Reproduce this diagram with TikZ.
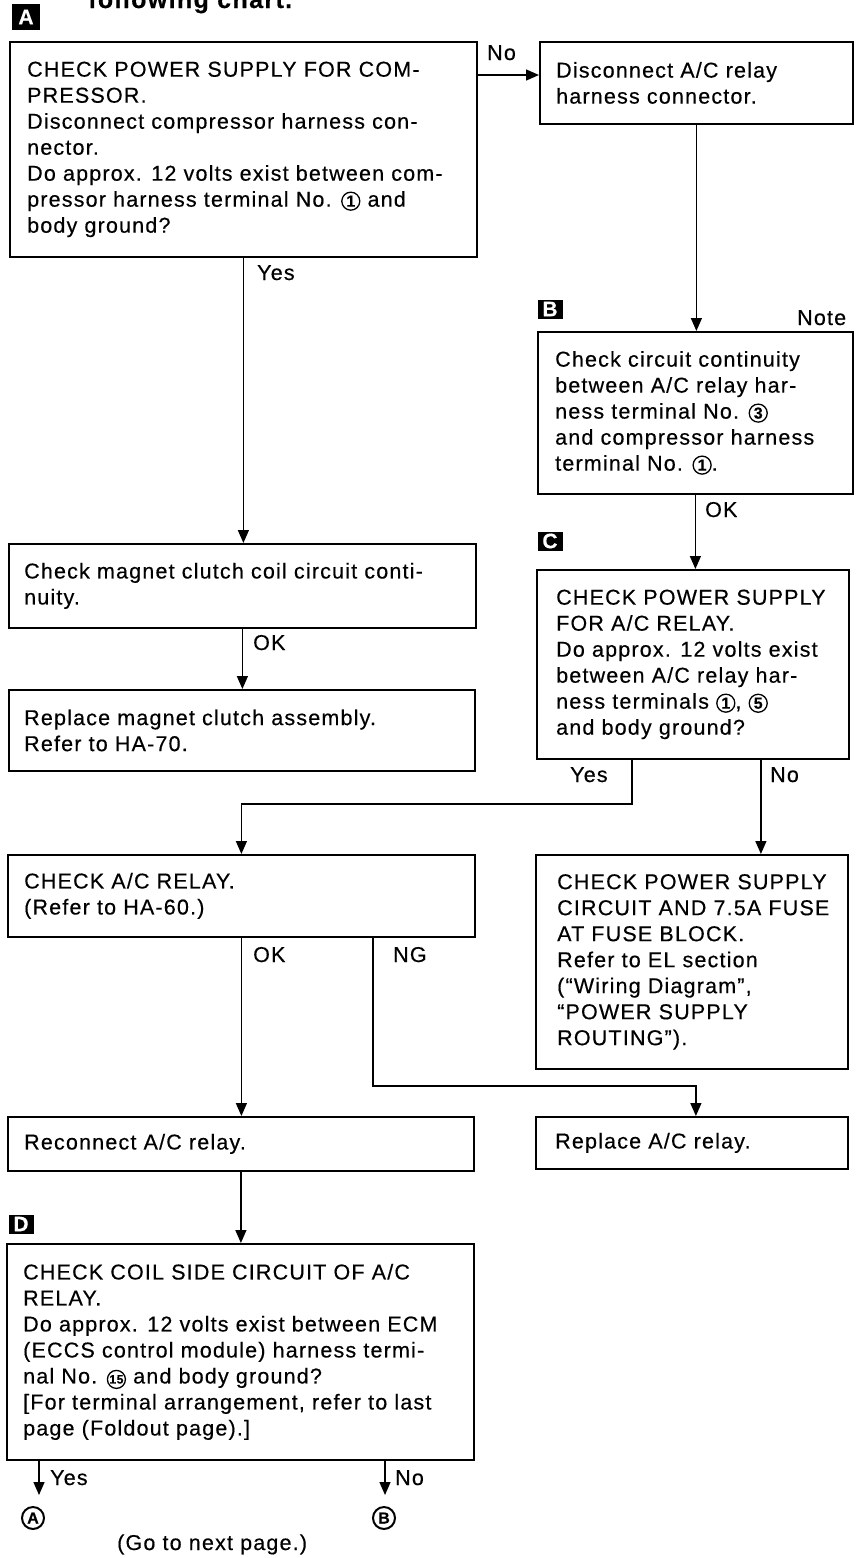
\documentclass[tikz,border=0pt]{standalone}
\usepackage{fontspec}
\setmainfont{Liberation Sans}[LetterSpace=5.5, FakeBold=0.4]
\usetikzlibrary{arrows.meta}

% circled terminal numbers: a thin ring round a bold numeral
\newcommand{\cnum}[2][16]{\tikz[baseline=(cn.base)]{%
  \node[inner sep=0pt, outer sep=0pt, font=\bfseries\fontsize{#1}{#1}\selectfont] (cn) {#2};
  \draw[line width=1.3pt] (cn.center) circle[radius=9pt];}}

\begin{document}
\begin{tikzpicture}[x=1pt, y=-1pt,
  box/.style={draw, line width=1.8pt, rectangle, inner sep=0pt, anchor=north west},
  txt/.style={align=left, inner sep=0pt, anchor=west, font=\fontsize{21.5}{26}\selectfont},
  lbl/.style={inner sep=0pt, anchor=base west, font=\fontsize{21.5}{26}\selectfont},
  tag/.style={fill=black, text=white, inner sep=0pt, minimum width=25pt, minimum height=19pt,
              font=\bfseries\fontsize{21}{21}\selectfont},
  link/.style={line width=1.4pt},
  arr/.style={link, -{Triangle[length=13pt,width=11pt]}},
  goto/.style={circle, draw, line width=2pt, minimum size=22pt, inner sep=0pt,
               font=\bfseries\fontsize{16}{16}\selectfont}]

\useasboundingbox (0,0) rectangle (858,1558);

% heading line of the page
\node[inner sep=0pt, anchor=base west, font=\bfseries\fontsize{25}{25}\selectfont] (head) at (88,8) {following chart.};

% section tags
\node[tag, minimum width=28pt, minimum height=26pt] (tA) at (26,17) {A};
\node[tag] (tB) at (550,309) {B};
\node[tag] (tC) at (550,541) {C};
\node[tag] (tD) at (21,1224) {D};
\node[lbl] (note) at (797,325) {Note};

% boxes
\node[box, minimum width=467pt, minimum height=215pt] (A) at (9,41) {};
\node[txt] (At) at ([xshift=18pt]A.west) {CHECK POWER SUPPLY FOR COM-\\PRESSOR.\\Disconnect compressor harness con-\\nector.\\Do approx. 12 volts exist between com-\\pressor harness terminal No. \cnum{1} and\\body ground?};

\node[box, minimum width=313pt, minimum height=82pt] (dis) at (539,41) {};
\node[txt] (dist) at ([xshift=17pt]dis.west) {Disconnect A/C relay\\harness connector.};

\node[box, minimum width=315pt, minimum height=162pt] (B) at (537,331) {};
\node[txt] (Bt) at ([xshift=18pt]B.west) {Check circuit continuity\\between A/C relay har-\\ness terminal No. \cnum{3}\\and compressor harness\\terminal No. \cnum{1}.};

\node[box, minimum width=312pt, minimum height=189pt] (C) at (536,569) {};
\node[txt] (Ct) at ([xshift=20pt]C.west) {CHECK POWER SUPPLY\\FOR A/C RELAY.\\Do approx. 12 volts exist\\between A/C relay har-\\ness terminals \cnum{1}, \cnum{5}\\and body ground?};

\node[box, minimum width=467pt, minimum height=84pt] (mag) at (8,543) {};
\node[txt] (magt) at ([xshift=16pt]mag.west) {Check magnet clutch coil circuit conti-\\nuity.};

\node[box, minimum width=466pt, minimum height=81pt] (repm) at (8,689) {};
\node[txt] (repmt) at ([xshift=16pt]repm.west) {Replace magnet clutch assembly.\\Refer to HA-70.};

\node[box, minimum width=467pt, minimum height=82pt] (rel) at (7,854) {};
\node[txt] (relt) at ([xshift=17pt]rel.west) {CHECK A/C RELAY.\\(Refer to HA-60.)};

\node[box, minimum width=312pt, minimum height=214pt] (psc) at (535,854) {};
\node[txt] (psct) at ([xshift=22pt]psc.west) {CHECK POWER SUPPLY\\CIRCUIT AND 7.5A FUSE\\AT FUSE BLOCK.\\Refer to EL section\\(“Wiring Diagram”,\\“POWER SUPPLY\\ROUTING”).};

\node[box, minimum width=466pt, minimum height=54pt] (recon) at (7,1116) {};
\node[txt] (recont) at ([xshift=17pt]recon.west) {Reconnect A/C relay.};

\node[box, minimum width=312pt, minimum height=52pt] (repr) at (535,1116) {};
\node[txt] (reprt) at ([xshift=20pt]repr.west) {Replace A/C relay.};

\node[box, minimum width=467pt, minimum height=216pt] (D) at (6,1243) {};
\node[txt] (Dt) at ([xshift=17pt]D.west) {CHECK COIL SIDE CIRCUIT OF A/C\\RELAY.\\Do approx. 12 volts exist between ECM\\(ECCS control module) harness termi-\\nal No. \cnum[12]{15} and body ground?\\{[}For terminal arrangement, refer to last\\page (Foldout page).{]}};

% connectors
\draw[arr] ([yshift=-34pt]A.north east) -- ([yshift=-34pt]dis.north west);
\node[lbl] (lNo1) at (487,60) {No};

\draw[arr] (dis.south) -- (dis.south |- B.north);
\draw[arr] (B.south) -- (B.south |- C.north);
\node[lbl] (lOK1) at (705,517) {OK};

\draw[arr] (A.south) -- (A.south |- mag.north);
\node[lbl] (lYes1) at (257,280) {Yes};
\draw[arr] (mag.south) -- (mag.south |- repm.north);
\node[lbl] (lOK2) at (253,650) {OK};

\coordinate (yc) at (632,804);
\draw[arr] (C.south -| yc) -- (yc) -| (rel.north);
\node[lbl] (lYes2) at (570,782) {Yes};
\draw[arr] ([xshift=68pt]C.south) -- ([xshift=68pt]C.south |- psc.north);
\node[lbl] (lNo2) at (770,782) {No};

\draw[arr] (rel.south) -- (rel.south |- recon.north);
\node[lbl] (lOK3) at (253,962) {OK};
\coordinate (ng) at (373,1086);
\draw[arr] (rel.south -| ng) -- (ng) -| ([xshift=4pt]repr.north);
\node[lbl] (lNG) at (393,962) {NG};

\draw[arr] (recon.south) -- (recon.south |- D.north);

\coordinate (ya) at (39,1495);
\coordinate (nb) at (385,1495);
\draw[arr] (D.south -| ya) -- (ya);
\draw[arr] (D.south -| nb) -- (nb);
\node[lbl] (lYes3) at (50,1485) {Yes};
\node[lbl] (lNo3) at (395,1485) {No};

% continuation marks
\node[goto] (gA) at (33,1518) {A};
\node[goto] (gB) at (384,1518) {B};
\node[lbl] (next) at (117,1550) {(Go to next page.)};

\end{tikzpicture}
\end{document}
